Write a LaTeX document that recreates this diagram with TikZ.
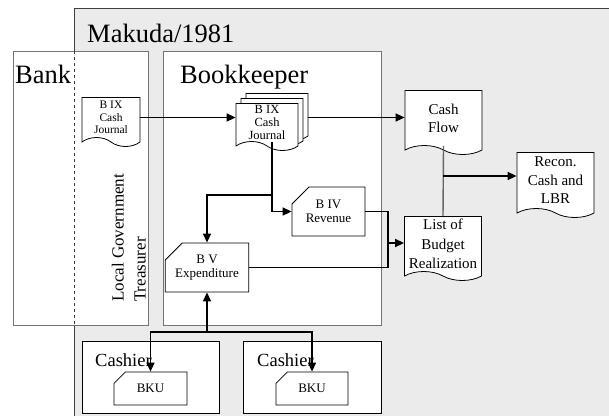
\documentclass[tikz,border=0pt]{standalone}
\usepackage{fontspec}
\setmainfont{Liberation Serif}
\usetikzlibrary{arrows.meta, shapes.symbols, shapes.misc, positioning}

\tikzset{
    frame/.style={draw=black!55, fill=white, line width=0.9pt},
    title/.style={anchor=base west, inner sep=0pt, font=\fontsize{26.5}{30}\selectfont},
    doc/.style={tape, tape bend top=none, tape bend bottom=out and in,
        tape bend height=9pt, draw=black, fill=white, line width=0.8pt,
        inner sep=0pt, align=center},
    card/.style={chamfered rectangle, chamfered rectangle corners=north west,
        chamfered rectangle xsep=10pt, chamfered rectangle ysep=7pt,
        draw=black, fill=white, line width=0.8pt, inner sep=0pt, align=center,
        font=\fontsize{13}{14}\selectfont}
}

\begin{document}
\begin{tikzpicture}[x=1pt, y=-1pt]
\useasboundingbox (0, 0) rectangle (609, 415);

% % frames
\fill [black!8] (74, 8) rectangle (620, 425);
\draw [black!75, line width=0.9pt] (74, 425) -- (74, 8) -- (620, 8);
\draw [frame] (13, 51) rectangle (148, 325);
\draw [black!75, dashed, line width=0.7pt] (74, 51) -- (74, 325);
\draw [frame] (163, 51) rectangle (381, 325);
\draw [frame, draw=black] (82, 341) rectangle (219, 413);
\draw [frame, draw=black] (243, 341) rectangle (381, 413);

\begin{scope}[every node/.style={title}]
    \node (makuda) at (87, 42) {Makuda/1981};
    \node (bank) at (15, 83) {Bank};
    \node (bookkeeper) at (180, 83) {Bookkeeper};
    \node (cashier1) at (95, 366) [font=\fontsize{18.5}{22}\selectfont] {Cashier};
    \node (cashier2) at (257, 366) [font=\fontsize{18.5}{22}\selectfont] {Cashier};
\end{scope}
\node (treasurer) at (146, 302) [rotate=90, anchor=south west, align=left, inner sep=0pt,
    font=\fontsize{17}{22}\selectfont] {Local Government\\Treasurer};

% % documents
\begin{scope}[every node/.style={doc}]
    \node (bankjournal) at (111, 117.5) [minimum width=58, minimum height=49,
        font=\fontsize{11.5}{12.5}\selectfont] {B IX\\Cash\\Journal};

    \node (journalthird) at (277, 112.5) [minimum width=62, minimum height=47] {};
    \node (journalsecond) at (272, 117.5) [minimum width=62, minimum height=47] {};
    \node (cashjournal) at (267, 122.5) [minimum width=62, minimum height=47,
        font=\fontsize{12.5}{13}\selectfont] {B IX\\Cash\\Journal};

    \node (cashflow) at (443.5, 118) [minimum width=77, minimum height=64,
        font=\fontsize{15}{18}\selectfont] {Cash\\Flow};
    \node (recon) at (555.5, 180.5) [minimum width=77, minimum height=65,
        font=\fontsize{15}{18.5}\selectfont] {Recon.\\Cash and\\LBR};
    \node (budget) at (443, 244) [minimum width=77, minimum height=64,
        font=\fontsize{15}{19.5}\selectfont] {List of\\Budget\\Realization};
\end{scope}

% % ledgers
\begin{scope}[every node/.style={card}]
    \node (revenue) at (328.5, 211.5) [minimum width=73, minimum height=49] {B IV\\Revenue};
    \node (expenditure) at (207, 267.5) [minimum width=72, minimum height=49] {B V\\Expenditure};
    \node (bku1) at (150.5, 388.5) [minimum width=73, minimum height=33] {BKU};
    \node (bku2) at (312, 388.5) [minimum width=72, minimum height=33] {BKU};
\end{scope}

\coordinate (split) at (272, 195);
\coordinate (merge) at (388, 243);
\coordinate (tap) at (443, 176);
\coordinate (fork) at (207, 332);

% % flows
\begin{scope}[>={Triangle[length=9pt, width=8pt]}, line width=1.4pt]
    \draw [->] (bankjournal.east) -- (bankjournal.east -| cashjournal.west);
    \draw [->] (bankjournal.east -| journalthird.east) -- (bankjournal.east -| cashflow.west);

    \draw (split |- cashjournal.south) -- (split);
    \draw [->] (split) |- (revenue.west);
    \draw [->] (split) -| (expenditure.north);

    \draw (revenue.east) -| (merge);
    \draw (expenditure.east) -| (merge);
    \draw [->] (merge) -- (merge -| budget.west);

    \draw [black!60] (cashflow.south) -- (budget.north);
    \draw [->] (tap) -- (tap -| recon.west);

    \draw [->] (fork) -- (expenditure.south);
    \draw [->] (fork) -| (bku1.north);
    \draw [->] (fork) -| (bku2.north);
\end{scope}
\end{tikzpicture}
\end{document}
